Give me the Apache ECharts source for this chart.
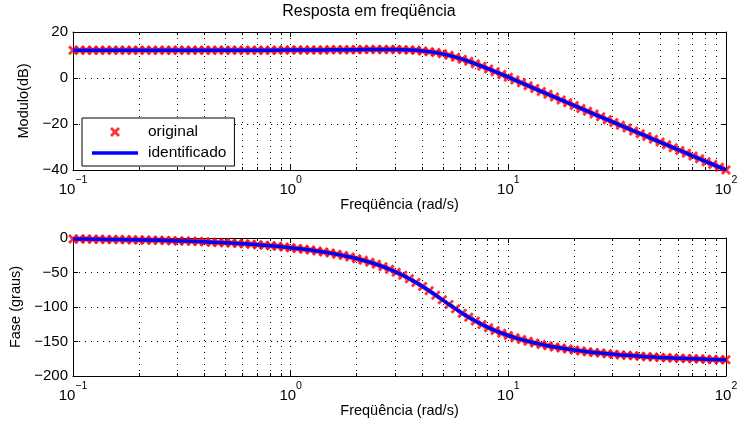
<!DOCTYPE html>
<html>
<head>
<meta charset="utf-8">
<script src="https://cdn.jsdelivr.net/npm/echarts@6/dist/echarts.min.js"></script>
<style>
  html, body { margin: 0; padding: 0; background: #fff; }
  #chart { width: 738px; height: 423px; }
</style>
</head>
<body>
<div id="chart"></div>
<script>
// Frequency grid (rad/s), 100 log-spaced samples from 0.1 to 100
const freq = [
  0.1, 0.10723, 0.11498, 0.12328, 0.13219, 0.14175, 0.15199, 0.16298, 0.17475, 0.18738,
  0.20092, 0.21544, 0.23101, 0.24771, 0.26561, 0.2848, 0.30539, 0.32745, 0.35112, 0.37649,
  0.4037, 0.43288, 0.46416, 0.4977, 0.53367, 0.57224, 0.61359, 0.65793, 0.70548, 0.75646,
  0.81113, 0.86975, 0.9326,
  1, 1.0723, 1.1498, 1.2328, 1.3219, 1.4175, 1.5199,
  1.6298, 1.7475, 1.8738, 2.0092, 2.1544, 2.3101, 2.4771, 2.6561, 2.848, 3.0539,
  3.2745, 3.5112, 3.7649, 4.037, 4.3288, 4.6416, 4.977, 5.3367, 5.7224, 6.1359,
  6.5793, 7.0548, 7.5646, 8.1113, 8.6975, 9.326,
  10, 10.723, 11.498, 12.328,
  13.219, 14.175, 15.199, 16.298, 17.475, 18.738, 20.092, 21.544, 23.101, 24.771,
  26.561, 28.48, 30.539, 32.745, 35.112, 37.649, 40.37, 43.288, 46.416, 49.77,
  53.367, 57.224, 61.359, 65.793, 70.548, 75.646, 81.113, 86.975, 93.26, 100
];

// Magnitude (dB)
const moduloDb = [
  12.04, 12.04, 12.04, 12.04, 12.04, 12.04, 12.04, 12.04, 12.04, 12.04,
  12.04, 12.04, 12.05, 12.05, 12.05, 12.05, 12.05, 12.05, 12.05, 12.05,
  12.06, 12.06, 12.06, 12.06, 12.07, 12.07, 12.08, 12.08, 12.09, 12.09,
  12.10, 12.11, 12.12, 12.13, 12.14, 12.16, 12.17, 12.19, 12.21, 12.23,
  12.25, 12.28, 12.30, 12.33, 12.35, 12.37, 12.39, 12.39, 12.39, 12.35,
  12.29, 12.19, 12.02, 11.79, 11.46, 11.04, 10.50, 9.84, 9.07, 8.19,
  7.23, 6.19, 5.09, 3.94, 2.77, 1.57, 0.35, -0.88, -2.11, -3.34,
  -4.58, -5.82, -7.06, -8.29, -9.52, -10.76, -11.99, -13.21, -14.44, -15.67,
  -16.89, -18.11, -19.33, -20.55, -21.77, -22.99, -24.21, -25.42, -26.64, -27.86,
  -29.07, -30.29, -31.50, -32.71, -33.93, -35.14, -36.36, -37.57, -38.78, -39.99
];

// Phase (degrees)
const faseGraus = [
  -1.4, -1.5, -1.6, -1.7, -1.8, -2.0, -2.1, -2.2, -2.4, -2.6,
  -2.8, -3.0, -3.2, -3.4, -3.7, -3.9, -4.2, -4.5, -4.8, -5.2,
  -5.6, -6.0, -6.4, -6.9, -7.4, -7.9, -8.5, -9.1, -9.8, -10.5,
  -11.3, -12.1, -13.1, -14.0, -15.1, -16.2, -17.5, -18.8, -20.3, -21.9,
  -23.6, -25.5, -27.6, -29.9, -32.4, -35.2, -38.2, -41.6, -45.3, -49.5,
  -54.0, -59.0, -64.4, -70.2, -76.4, -82.9, -89.6, -96.2, -102.7, -109.0,
  -114.9, -120.3, -125.4, -130.0, -134.1, -137.9, -141.3, -144.4, -147.2, -149.8,
  -152.1, -154.2, -156.1, -157.9, -159.5, -161.0, -162.3, -163.6, -164.8, -165.8,
  -166.8, -167.7, -168.6, -169.4, -170.1, -170.8, -171.4, -172.0, -172.5, -173.1,
  -173.5, -174.0, -174.4, -174.8, -175.1, -175.4, -175.8, -176.0, -176.3, -176.6
];

// Minor decade positions for the log frequency axis (2..9 of each decade)
const minorFreqs = [0.2, 0.3, 0.4, 0.5, 0.6, 0.7, 0.8, 0.9,
                    2, 3, 4, 5, 6, 7, 8, 9,
                    20, 30, 40, 50, 60, 70, 80, 90];

const seriesNames = ['original', 'identificado'];
const titleText = 'Resposta em freqüência';
const xName = 'Freqüência (rad/s)';
const yNames = ['Modulo(dB)', 'Fase (graus)'];

const FONT = '"Liberation Sans", Arial, Helvetica, sans-serif';
// Bold "x" marker and a flat bar used as the line's legend key
const XMARK = 'path://M0,2L2,0L5,3L8,0L10,2L7,5L10,8L8,10L5,7L2,10L0,8L3,5Z';
const LINEKEY = 'path://M0,0H46V3.5H0Z';
const DOT = [1, 5];

const minus = v => (v < 0 ? '\u2212' + Math.abs(v) : String(v));

function decadeLabel(v) {
  const e = Math.round(Math.log10(v));
  return '{b|10}{e|' + minus(e) + '}';
}

function xAxes(gridIndex) {
  const common = {
    type: 'log', logBase: 10, gridIndex: gridIndex, min: 0.1, max: 100,
    axisLine: { show: true, onZero: false, lineStyle: { color: '#000', width: 1 } },
    axisTick: { show: true, inside: true, length: 5, lineStyle: { color: '#000', width: 1 } }
  };
  return [
    Object.assign({}, common, {
      position: 'bottom',
      axisLabel: {
        show: true, margin: 5, formatter: decadeLabel,
        rich: {
          b: { fontSize: 15, lineHeight: 22, verticalAlign: 'bottom', fontFamily: FONT, color: '#000' },
          e: { fontSize: 10.5, lineHeight: 10, verticalAlign: 'top', fontFamily: FONT, color: '#000' }
        }
      },
      splitLine: { show: true, lineStyle: { color: '#000', width: 1, type: DOT } },
      name: xName, nameLocation: 'middle', nameGap: 27,
      nameTextStyle: { fontSize: 14.5, fontFamily: FONT, color: '#000' }
    }),
    Object.assign({}, common, {
      position: 'top',
      axisLabel: { show: false },
      splitLine: { show: false }
    })
  ];
}

function yAxes(gridIndex, min, max, interval, name, gap) {
  const common = {
    type: 'value', gridIndex: gridIndex, min: min, max: max, interval: interval,
    axisLine: { show: true, onZero: false, lineStyle: { color: '#000', width: 1 } },
    axisTick: { show: true, inside: true, length: 5, lineStyle: { color: '#000', width: 1 } }
  };
  return [
    Object.assign({}, common, {
      position: 'left',
      axisLabel: { show: true, margin: 5, fontSize: 15, fontFamily: FONT, color: '#000', formatter: minus },
      splitLine: { show: true, lineStyle: { color: '#000', width: 1, type: DOT } },
      name: name, nameLocation: 'middle', nameGap: gap,
      nameTextStyle: { fontSize: 14.5, fontFamily: FONT, color: '#000' }
    }),
    Object.assign({}, common, {
      position: 'right',
      axisLabel: { show: false },
      splitLine: { show: false }
    })
  ];
}

// Dotted minor grid lines plus short inward minor ticks on the top and bottom frame
function minorGrid(params, api) {
  const cs = params.coordSys;
  const x = Math.round(api.coord([api.value(0), api.value(1)])[0]) + 0.5;
  const top = cs.y, bot = cs.y + cs.height;
  return {
    type: 'group',
    children: [
      { type: 'line', shape: { x1: x, y1: top, x2: x, y2: bot },
        style: { stroke: '#000', lineWidth: 1, lineDash: DOT } },
      { type: 'line', shape: { x1: x, y1: top, x2: x, y2: top + 3 },
        style: { stroke: '#000', lineWidth: 1 } },
      { type: 'line', shape: { x1: x, y1: bot, x2: x, y2: bot - 3 },
        style: { stroke: '#000', lineWidth: 1 } }
    ]
  };
}

function panelSeries(axisIndex, values) {
  const pts = freq.map((w, i) => [w, values[i]]);
  return [
    { type: 'custom', xAxisIndex: axisIndex, yAxisIndex: axisIndex, silent: true, z: 1,
      renderItem: minorGrid, encode: { x: 0, y: 1 },
      data: minorFreqs.map(v => [v, 0]) },
    { name: seriesNames[0], type: 'scatter', xAxisIndex: axisIndex, yAxisIndex: axisIndex,
      data: pts, symbol: XMARK, symbolSize: 10, z: 3,
      itemStyle: { color: '#ff0000' } },
    { name: seriesNames[1], type: 'line', xAxisIndex: axisIndex, yAxisIndex: axisIndex,
      data: pts, symbol: 'none', showSymbol: false, z: 4,
      lineStyle: { color: '#0000ff', width: 3.5 }, itemStyle: { color: '#0000ff' } }
  ];
}

const chart = echarts.init(document.getElementById('chart'), null, { renderer: 'canvas' });
chart.setOption({
  animation: false,
  backgroundColor: '#fff',
  title: {
    text: titleText, left: 'center', top: 4, padding: [0, 0, 0, 58],
    textStyle: { fontSize: 16, fontWeight: 'normal', fontFamily: FONT, color: '#000' }
  },
  legend: {
    data: [
      { name: seriesNames[0], icon: XMARK },
      { name: seriesNames[1], icon: LINEKEY }
    ],
    orient: 'vertical', left: 82, top: 118, z: 10,
    itemWidth: 46, itemHeight: 10, itemGap: 5, padding: [6, 8, 5, 10],
    backgroundColor: '#fff', borderColor: '#000', borderWidth: 1, borderRadius: 0,
    selectedMode: false,
    textStyle: { fontSize: 15.5, fontFamily: FONT, color: '#000', padding: [0, 0, 0, 5] }
  },
  grid: [
    { left: 73, right: 12, top: 32, height: 138, outerBoundsMode: 'none', containLabel: false },
    { left: 73, right: 12, top: 238, height: 138, outerBoundsMode: 'none', containLabel: false }
  ],
  xAxis: [].concat(xAxes(0), xAxes(1)),
  yAxis: [].concat(
    yAxes(0, -40, 20, 20, yNames[0], 35),
    yAxes(1, -200, 0, 50, yNames[1], 44)
  ),
  series: [].concat(panelSeries(0, moduloDb), panelSeries(2, faseGraus))
});
</script>
</body>
</html>
